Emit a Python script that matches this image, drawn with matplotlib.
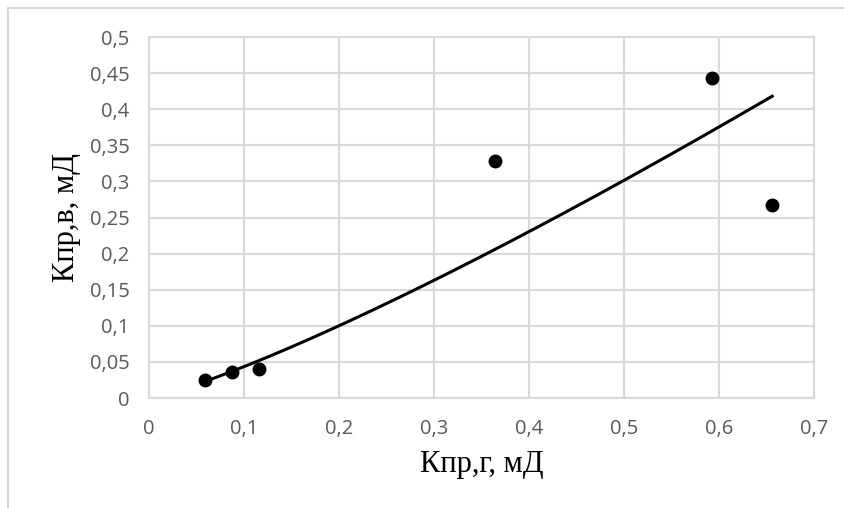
import matplotlib.pyplot as plt
import matplotlib.patches as mpatches
import numpy as np

# Kpr,g vs Kpr,v (mD)
kpr_g = [0.059, 0.087, 0.116, 0.364, 0.593, 0.656]
kpr_v = [0.025, 0.036, 0.040, 0.328, 0.443, 0.267]
x_ticks = [0, 0.1, 0.2, 0.3, 0.4, 0.5, 0.6, 0.7]
y_ticks = [0, 0.05, 0.1, 0.15, 0.2, 0.25, 0.3, 0.35, 0.4, 0.45, 0.5]

grid_c = '#d9d9d9'
tick_c = '#595959'

fig = plt.figure(figsize=(8.45, 5.08), dpi=100)
ax = fig.add_axes([149 / 845, 1 - 398 / 508, 665 / 845, 361 / 508])

# chart area border (Excel style)
fig.patches.append(mpatches.Rectangle((8 / 845, -0.1), 1.2, 1 - 8 / 508 + 0.1,
                                      transform=fig.transFigure, fill=False,
                                      edgecolor=grid_c, lw=1.5, zorder=0))

x = np.array(kpr_g)
y = np.array(kpr_v)

# power trendline, y = a*x^b
b, lna = np.polyfit(np.log(x), np.log(y), 1)
xf = np.linspace(x.min(), x.max(), 200)
ax.plot(xf, np.exp(lna) * xf ** b, color='black', lw=2.2, zorder=3)

ax.plot(x, y, 'o', color='black', ms=9, zorder=4)

ax.set_xlim(0, 0.7)
ax.set_ylim(0, 0.5)
ax.set_xticks(x_ticks)
ax.set_yticks(y_ticks)
ax.set_xticklabels([('%g' % v).replace('.', ',') for v in x_ticks])
ax.set_yticklabels([('%g' % v).replace('.', ',') for v in y_ticks])
ax.tick_params(length=0, labelsize=14.5, labelcolor=tick_c)
ax.tick_params(axis='x', pad=15)
ax.tick_params(axis='y', pad=14)
for lab in ax.get_xticklabels() + ax.get_yticklabels():
    lab.set_family('Open Sans')

ax.grid(True, color=grid_c, lw=1.5)
ax.set_axisbelow(True)
for s in ax.spines.values():
    s.set_color(grid_c)
    s.set_linewidth(1.5)

ax.set_xlabel('Кпр,г, мД', family='Liberation Serif', fontsize=22, labelpad=8)
ax.set_ylabel('Кпр,в, мД', family='Liberation Serif', fontsize=22, labelpad=6)

fig.savefig('out.png', dpi=100)
